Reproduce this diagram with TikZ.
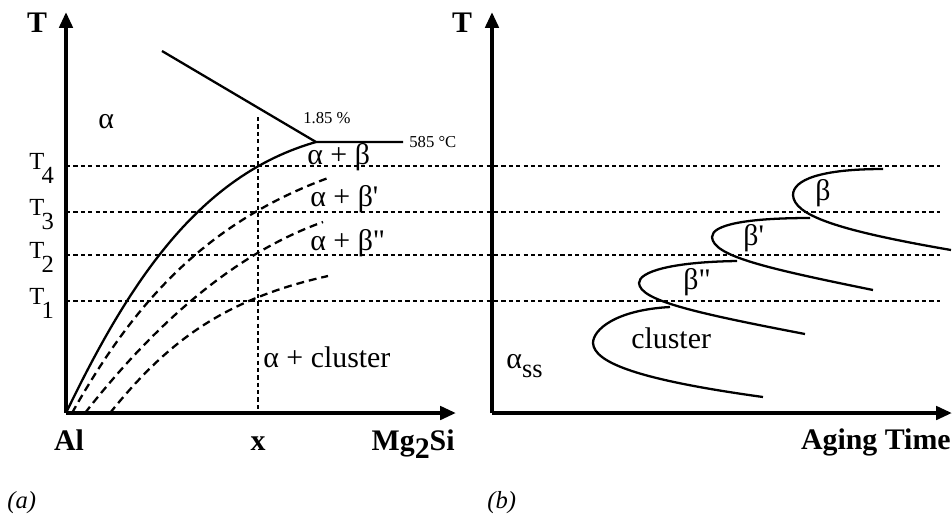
\documentclass[tikz,border=0pt]{standalone}
\usepackage{fontspec}
\setmainfont{Liberation Serif}
\newfontfamily\plainserif{Liberation Serif}[Ligatures=TeXOff]
\usetikzlibrary{arrows.meta}

\begin{document}
\begin{tikzpicture}[x=0.02cm,y=-0.02cm,
 axis/.style={line width=2.2pt,-{Triangle[length=9pt,width=7.5pt]}},
 phase/.style={line width=1.3pt},
 meta/.style={phase,dash pattern=on 4.5pt off 2.8pt},
 guide/.style={line width=0.75pt,dash pattern=on 2.4pt off 1.8pt},
 lbl/.style={inner sep=0pt,anchor=base west,font=\plainserif\fontsize{17}{20}\selectfont},
 axlbl/.style={inner sep=0pt,anchor=base,font=\fontsize{17}{20}\selectfont\bfseries},
 tlab/.style={inner sep=0pt,anchor=base west,font=\fontsize{14}{16}\selectfont},
 note/.style={inner sep=0pt,anchor=base west,font=\fontsize{9.5}{11}\selectfont},
 panel/.style={inner sep=0pt,anchor=base west,font=\fontsize{14}{16}\selectfont\itshape}]
\useasboundingbox (0,0) rectangle (952,515);

\foreach \y/\n in {166/4,212/3,255/2,301/1}{
  \coordinate (h\n) at (66,\y);
  \coordinate (h\n e) at (940,\y);
  \draw[guide] (h\n) -- (h\n e);
  \node[tlab] (t\n) at (29,\y+3) {T\kern-1.5pt\raisebox{-8.5pt}{\n}};
}
\coordinate (xtop) at (258,117);
\coordinate (xbot) at (258,413);
\draw[guide] (xtop) -- (xbot);

\coordinate (o1) at (66,413);
\coordinate (o2) at (492,413);
\coordinate (ytip1) at (66,12);
\coordinate (ytip2) at (492,12);
\coordinate (xtip1) at (456,413);
\coordinate (xtip2) at (952,413);
\draw[axis] (o1) -- (ytip1);
\draw[axis] (o1) -- (xtip1);
\draw[axis] (o2) -- (ytip2);
\draw[axis] (o2) -- (xtip2);

\coordinate (liq) at (162,51);
\coordinate (eut) at (316,142);
\coordinate (eutR) at (403,142);
\draw[phase] (liq) -- (eut) -- (eutR);
\draw[phase] (o1) .. controls (130,280) and (200,175) .. (eut);
\draw[meta] (72,413) .. controls (130,310) and (200,225) .. (328,178);
\draw[meta] (85,413) .. controls (150,330) and (230,255) .. (323,222);
\draw[meta] (110,413) .. controls (165,345) and (220,300) .. (328,276);

\draw[phase] (883,169) .. controls (820,169) and (793,180) .. (793,195)
  .. controls (794,215) and (835,230) .. (951,250);
\draw[phase] (810,218) .. controls (745,218) and (712,225) .. (712,237)
  .. controls (713,256) and (765,268) .. (873,290);
\draw[phase] (737,261) .. controls (670,262) and (639,272) .. (639,283)
  .. controls (640,300) and (690,312) .. (805,334);
\draw[phase] (670,307) .. controls (615,310) and (593,330) .. (593,343)
  .. controls (594,363) and (640,380) .. (763,397);

\node[axlbl] (ta) at (37,32) {T};
\node[axlbl] (tb) at (462,32) {T};
\node[axlbl] (al) at (69,450) {Al};
\node[axlbl] (xc) at (258,450) {x};
\node[axlbl,anchor=base east] (mg) at (455,450) {Mg\raisebox{-5pt}{2}Si};
\node[axlbl,anchor=base east] (age) at (951,449) {Aging Time};
\node[panel] (pa) at (7,508) {(a)};
\node[panel] (pb) at (487,508) {(b)};

\node[lbl] (alpha) at (98,128) {α};
\node[note] (pct) at (303,123) {1.85 \%};
\node[note] (eutT) at (409,147) {585 °C};
\node[lbl] (ab) at (307,164) {α + β};
\node[lbl] (ab1) at (310,206) {α + β'};
\node[lbl] (ab2) at (310,250) {α + β"};
\node[lbl] (acl) at (263,367) {α + cluster};

\node[lbl] (b0) at (815,200) {β};
\node[lbl] (b1) at (743,245) {β'};
\node[lbl] (b2) at (683,289) {β"};
\node[lbl] (cl) at (631,348) {cluster};
\node[lbl] (ass) at (506,368) {α\raisebox{-5.5pt}{\fontsize{15}{17}\selectfont ss}};
\end{tikzpicture}
\end{document}
